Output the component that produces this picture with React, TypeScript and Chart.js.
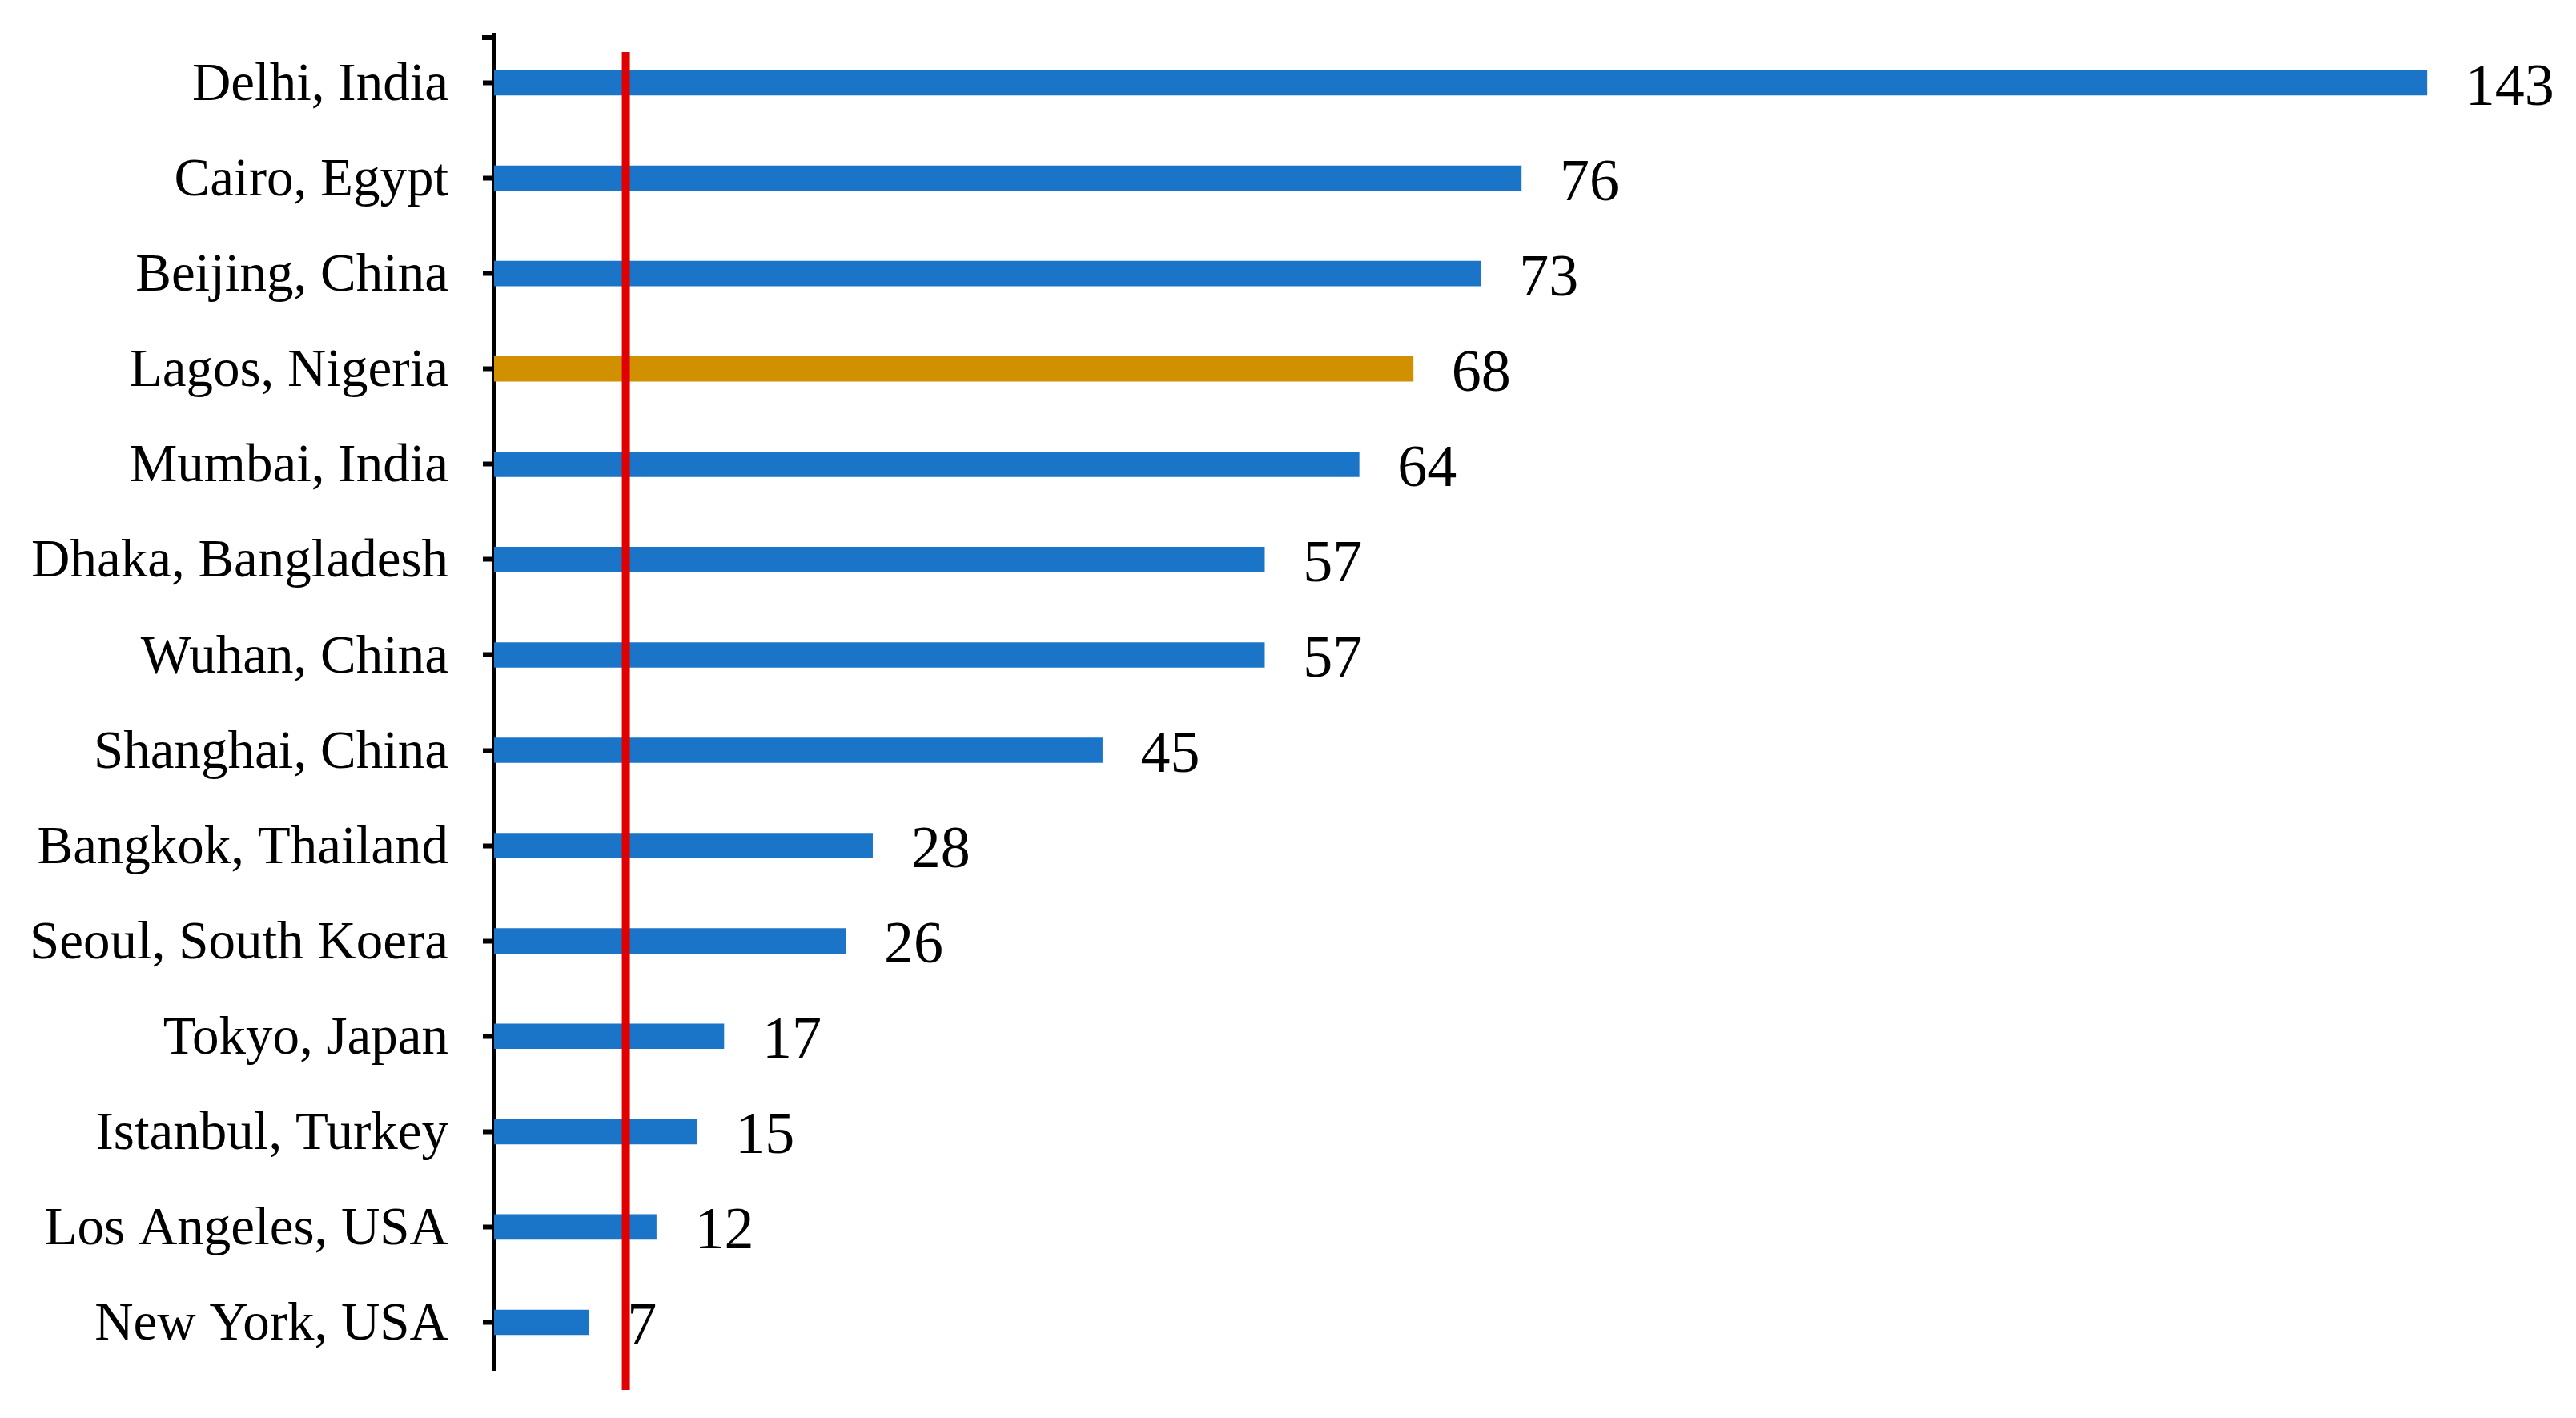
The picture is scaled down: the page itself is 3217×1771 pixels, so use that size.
import React, { useEffect, useRef } from "react";
import { Chart, registerables } from "chart.js";

Chart.register(...registerables);

const categories = [
  "Delhi, India",
  "Cairo, Egypt",
  "Beijing, China",
  "Lagos, Nigeria",
  "Mumbai, India",
  "Dhaka, Bangladesh",
  "Wuhan, China",
  "Shanghai, China",
  "Bangkok, Thailand",
  "Seoul, South Koera",
  "Tokyo, Japan",
  "Istanbul, Turkey",
  "Los Angeles, USA",
  "New York, USA",
];
const values = [143, 76, 73, 68, 64, 57, 57, 45, 28, 26, 17, 15, 12, 7];
const highlighted = ["Lagos, Nigeria"];
const referenceValue = 9.75;
const xMax = 150;

const BLUE = "#1A75C9";
const GOLD = "#D09000";
const RED = "#E00000";
const FONT = "'Liberation Serif', 'Times New Roman', serif";

const overlayPlugin = {
  id: "overlay",
  afterDatasetsDraw(chart: any) {
    const { ctx, chartArea, scales } = chart;
    const x = scales.x;
    ctx.save();
    // top cap tick of axis
    ctx.fillStyle = "#000";
    ctx.fillRect(chartArea.left - 15, chartArea.top, 15, 6);
    // value labels
    ctx.font = `74px ${FONT}`;
    ctx.fillStyle = "#000";
    ctx.textAlign = "left";
    ctx.textBaseline = "alphabetic";
    const meta = chart.getDatasetMeta(0);
    meta.data.forEach((bar: any, i: number) => {
      ctx.fillText(String(values[i]), bar.x + 48, bar.y + 27);
    });
    // red reference line
    const rx = x.getPixelForValue(referenceValue);
    ctx.fillStyle = RED;
    ctx.fillRect(rx - 5, chartArea.top + 21, 10, chartArea.bottom - chartArea.top + 4);
    ctx.restore();
  },
};

export default function App() {
  const ref = useRef<HTMLCanvasElement | null>(null);
  useEffect(() => {
    if (!ref.current) return;
    const chart = new Chart(ref.current, {
      type: "bar",
      data: {
        labels: categories,
        datasets: [
          {
            data: values,
            backgroundColor: categories.map((c) => (highlighted.includes(c) ? GOLD : BLUE)),
            barThickness: 31,
            borderWidth: 0,
          },
        ],
      },
      options: {
        indexAxis: "y",
        animation: false,
        responsive: false,
        maintainAspectRatio: false,
        layout: { padding: { top: 44, right: 68, bottom: 60, left: 0 } },
        plugins: { legend: { display: false }, tooltip: { enabled: false } },
        scales: {
          x: {
            display: false,
            min: 0,
            max: xMax,
          },
          y: {
            afterFit: (scale: any) => {
              scale.width = 617;
              scale.paddingTop = 0;
              scale.paddingBottom = 0;
            },
            grid: {
              display: true,
              drawOnChartArea: false,
              drawTicks: true,
              tickLength: 14,
              tickWidth: 6,
              color: "#000",
              offset: false,
            },
            border: { display: true, color: "#000", width: 6 },
            ticks: {
              color: "#000",
              padding: 43,
              labelOffset: 4,
              font: { family: FONT, size: 67 },
            },
          },
        },
      },
      plugins: [overlayPlugin],
    });
    return () => chart.destroy();
  }, []);
  return (
    <div style={{ position: "fixed", left: 0, top: 0, width: 3217, height: 1771, background: "#fff" }}>
      <canvas ref={ref} width={3217} height={1771} style={{ width: 3217, height: 1771, display: "block" }} />
    </div>
  );
}
